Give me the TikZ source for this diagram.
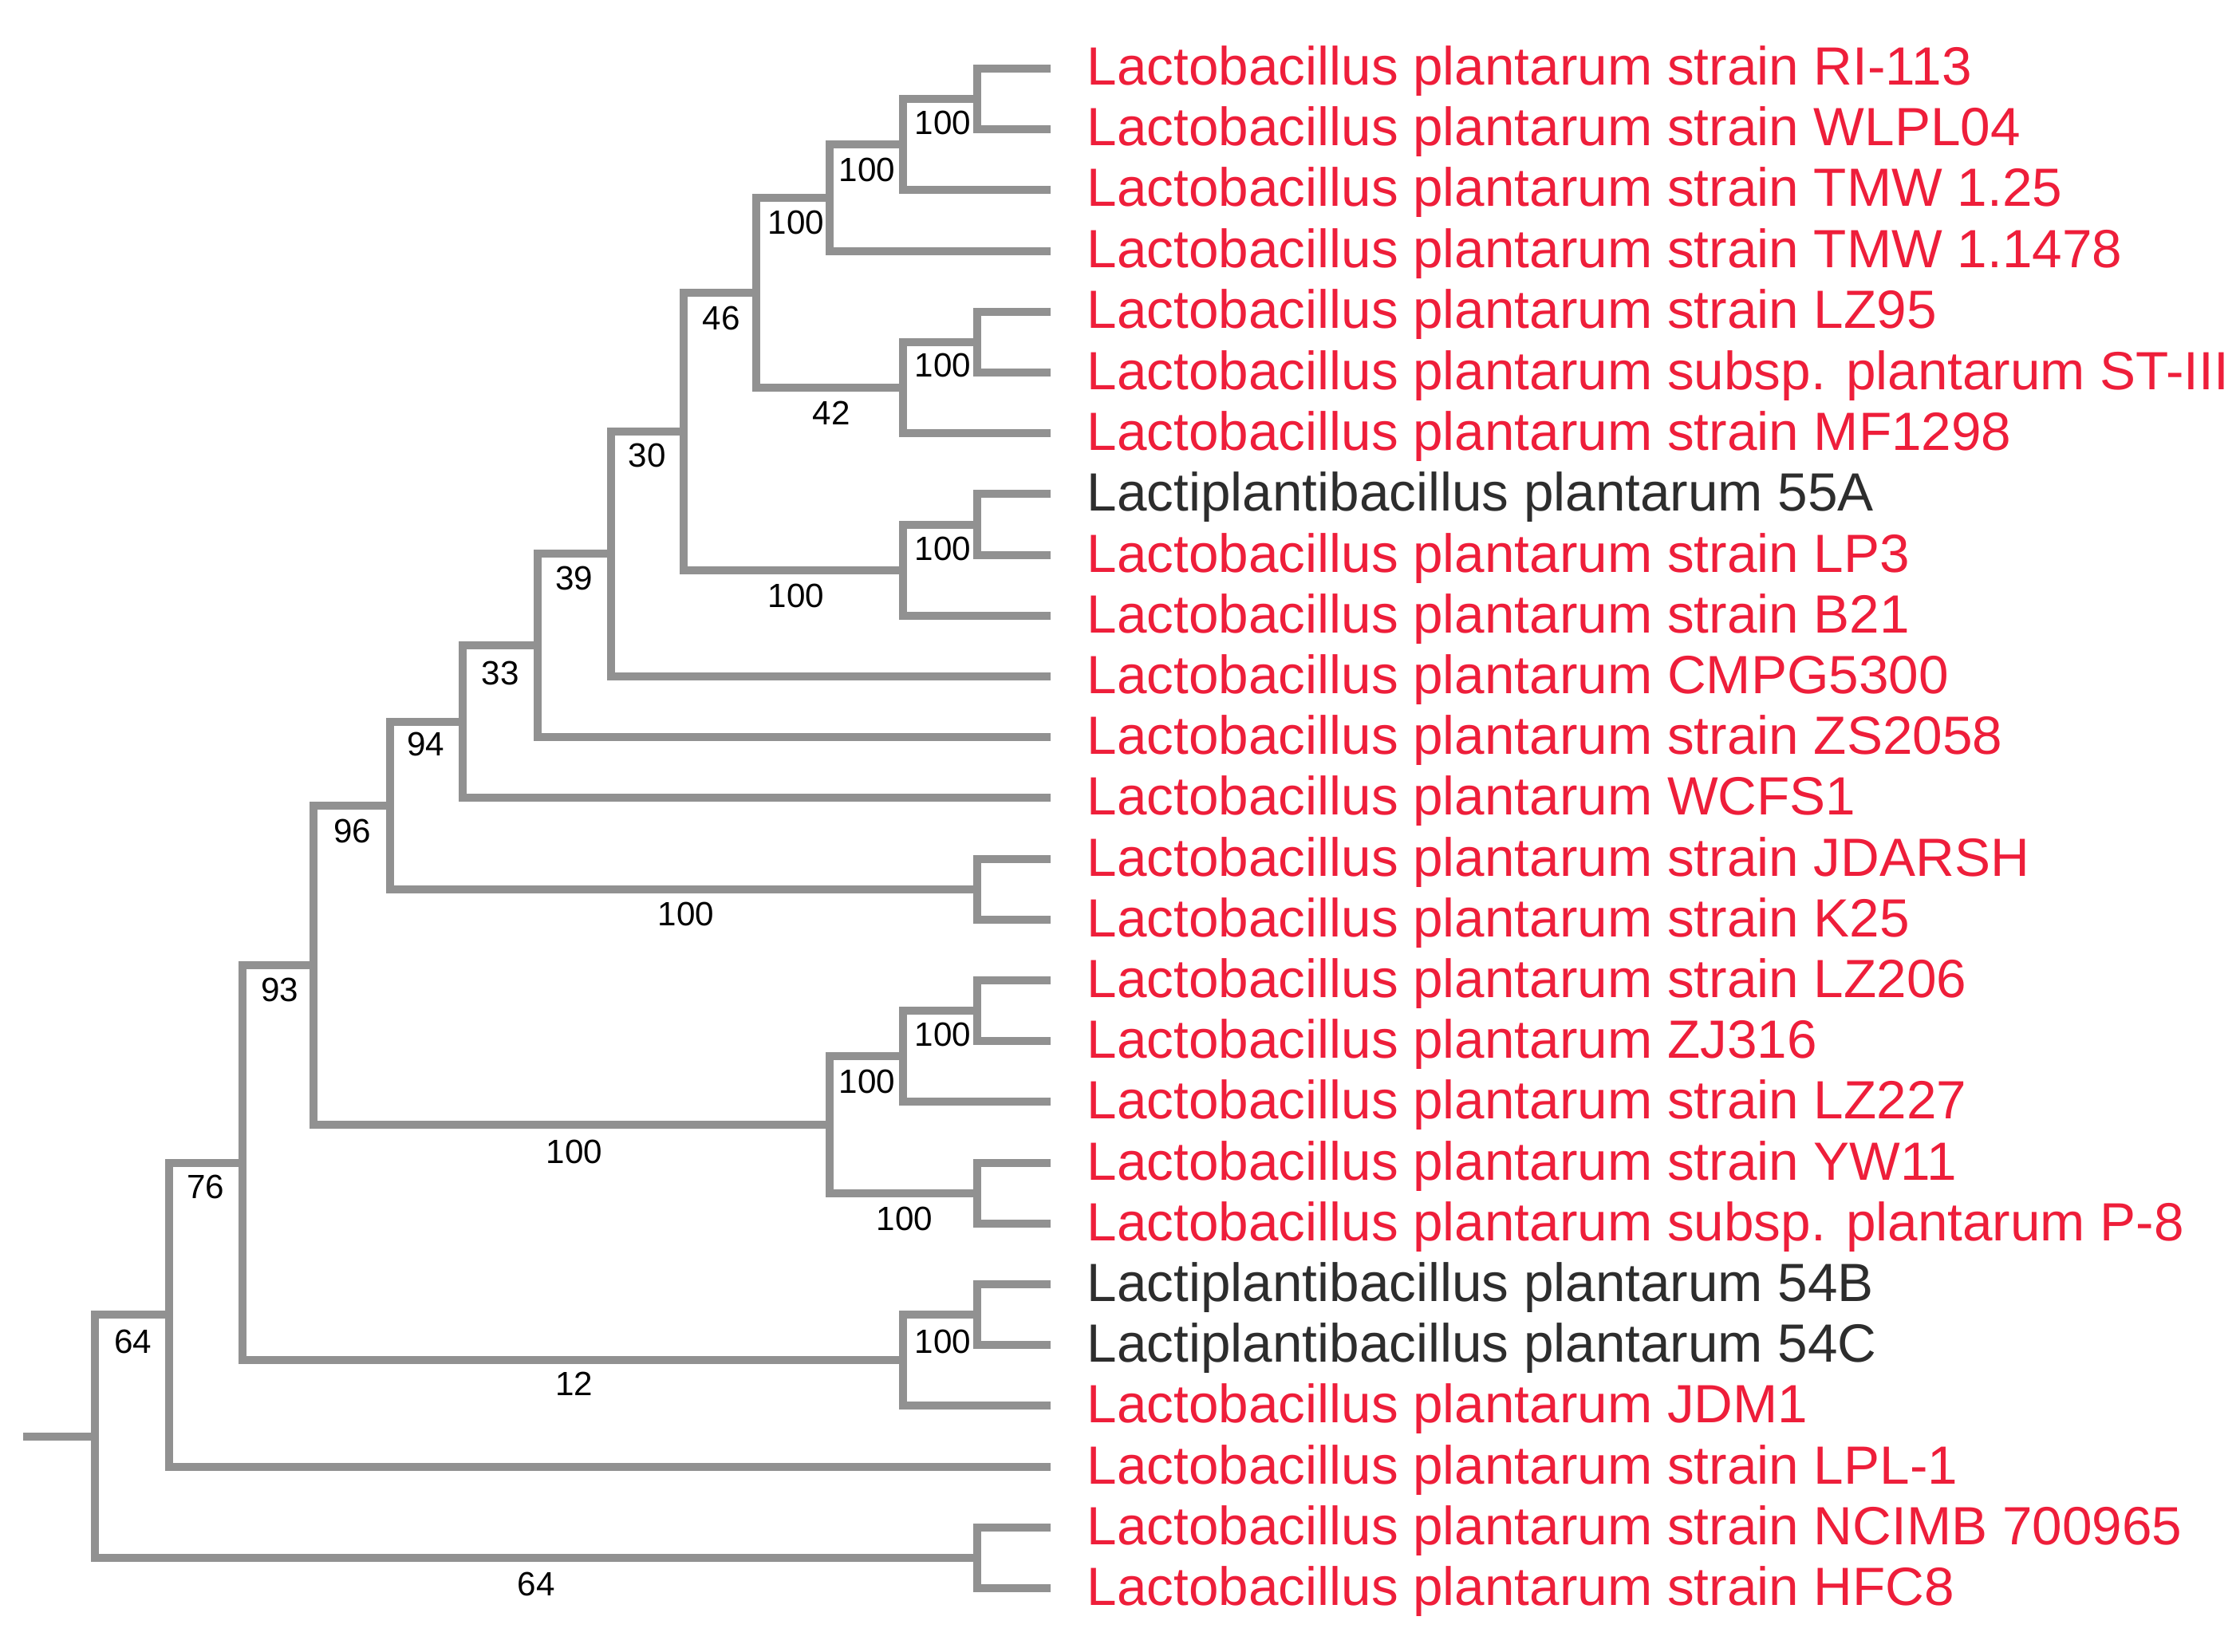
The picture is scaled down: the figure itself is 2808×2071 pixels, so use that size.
\documentclass[tikz,border=0pt]{standalone}
\usepackage{fontspec}
\setmainfont{Liberation Sans}
\definecolor{treegrey}{RGB}{145,145,145}
\definecolor{strainred}{RGB}{238,30,58}
\definecolor{ownblack}{RGB}{45,45,45}
\tikzset{
  branch/.style={draw=treegrey, line width=0.95mm},
  taxon/.style={anchor=base west, inner sep=0pt, font=\fontsize{19.2}{23}\selectfont, text=strainred},
  owntaxon/.style={taxon, text=ownblack},
  boot/.style={inner sep=0pt, font=\fontsize{12}{14}\selectfont},
}
\begin{document}
\begin{tikzpicture}[x=0.1mm,y=-0.1mm]
\useasboundingbox (0,0) rectangle (2808,2071);
% leaf tips
\coordinate (ri113) at (1317,86);   \coordinate (wlpl04) at (1317,162);
\coordinate (tmw125) at (1317,238); \coordinate (tmw1478) at (1317,315);
\coordinate (lz95) at (1317,391);   \coordinate (st3) at (1317,467);
\coordinate (mf1298) at (1317,543); \coordinate (a55) at (1317,619);
\coordinate (lp3) at (1317,696);    \coordinate (b21) at (1317,772);
\coordinate (cmpg) at (1317,848);   \coordinate (zs2058) at (1317,924);
\coordinate (wcfs1) at (1317,1000); \coordinate (jdarsh) at (1317,1077);
\coordinate (k25) at (1317,1153);   \coordinate (lz206) at (1317,1229);
\coordinate (zj316) at (1317,1305); \coordinate (lz227) at (1317,1381);
\coordinate (yw11) at (1317,1458);  \coordinate (p8) at (1317,1534);
\coordinate (b54) at (1317,1610);   \coordinate (c54) at (1317,1686);
\coordinate (jdm1) at (1317,1762);  \coordinate (lpl1) at (1317,1839);
\coordinate (ncimb) at (1317,1915); \coordinate (hfc8) at (1317,1991);
% inner nodes
\coordinate (n1) at (1225,124);  \coordinate (n2) at (1132,181);
\coordinate (n3) at (1040,248);  \coordinate (n4) at (1225,429);
\coordinate (n5) at (1132,486);  \coordinate (n6) at (948,367);
\coordinate (n7) at (1225,658);  \coordinate (n8) at (1132,715);
\coordinate (n9) at (857,541);   \coordinate (n10) at (766,694);
\coordinate (n11) at (674,809);  \coordinate (n12) at (580,905);
\coordinate (n13) at (1225,1115); \coordinate (n14) at (489,1010);
\coordinate (n15) at (1225,1267); \coordinate (n16) at (1132,1324);
\coordinate (n17) at (1225,1496); \coordinate (n18) at (1040,1410);
\coordinate (n19) at (393,1210); \coordinate (n20) at (1225,1648);
\coordinate (n21) at (1132,1705); \coordinate (n22) at (304,1458);
\coordinate (n23) at (212,1648); \coordinate (n24) at (1225,1953);
\coordinate (n25) at (119,1801); \coordinate (root) at (29,1801);
% branches
\draw[branch] (ri113) -| (n1) |- (wlpl04);
\draw[branch] (n1) -| (n2) |- (tmw125);
\draw[branch] (n2) -| (n3) |- (tmw1478);
\draw[branch] (lz95) -| (n4) |- (st3);
\draw[branch] (n4) -| (n5) |- (mf1298);
\draw[branch] (n3) -| (n6) |- (n5);
\draw[branch] (a55) -| (n7) |- (lp3);
\draw[branch] (n7) -| (n8) |- (b21);
\draw[branch] (n6) -| (n9) |- (n8);
\draw[branch] (n9) -| (n10) |- (cmpg);
\draw[branch] (n10) -| (n11) |- (zs2058);
\draw[branch] (n11) -| (n12) |- (wcfs1);
\draw[branch] (jdarsh) -| (n13) |- (k25);
\draw[branch] (n12) -| (n14) |- (n13);
\draw[branch] (lz206) -| (n15) |- (zj316);
\draw[branch] (n15) -| (n16) |- (lz227);
\draw[branch] (yw11) -| (n17) |- (p8);
\draw[branch] (n16) -| (n18) |- (n17);
\draw[branch] (n14) -| (n19) |- (n18);
\draw[branch] (b54) -| (n20) |- (c54);
\draw[branch] (n20) -| (n21) |- (jdm1);
\draw[branch] (n19) -| (n22) |- (n21);
\draw[branch] (n22) -| (n23) |- (lpl1);
\draw[branch] (ncimb) -| (n24) |- (hfc8);
\draw[branch] (n23) -| (n25) |- (n24);
\draw[branch] (root) -- (n25);
% bootstrap values
\node[boot] (bs1) at (1182,154) {100};
\node[boot] (bs2) at (1087,213) {100};
\node[boot] (bs3) at (998,279) {100};
\node[boot] (bs4) at (904,399) {46};
\node[boot] (bs5) at (1182,458) {100};
\node[boot] (bs6) at (1042,518) {42};
\node[boot] (bs7) at (811,571) {30};
\node[boot] (bs8) at (1182,688) {100};
\node[boot] (bs9) at (998,747) {100};
\node[boot] (bs10) at (720,725) {39};
\node[boot] (bs11) at (627,844) {33};
\node[boot] (bs12) at (534,933) {94};
\node[boot] (bs13) at (442,1042) {96};
\node[boot] (bs14) at (860,1146) {100};
\node[boot] (bs15) at (351,1241) {93};
\node[boot] (bs16) at (1182,1297) {100};
\node[boot] (bs17) at (1087,1356) {100};
\node[boot] (bs18) at (720,1444) {100};
\node[boot] (bs19) at (1134,1528) {100};
\node[boot] (bs20) at (258,1488) {76};
\node[boot] (bs21) at (1182,1682) {100};
\node[boot] (bs22) at (720,1735) {12};
\node[boot] (bs23) at (167,1682) {64};
\node[boot] (bs24) at (672,1986) {64};
% strain names
\node[taxon] (l-ri113) at (1362,107) {Lactobacillus plantarum strain RI-113};
\node[taxon] (l-wlpl04) at (1362,183) {Lactobacillus plantarum strain WLPL04};
\node[taxon] (l-tmw125) at (1362,259) {Lactobacillus plantarum strain TMW 1.25};
\node[taxon] (l-tmw1478) at (1362,336) {Lactobacillus plantarum strain TMW 1.1478};
\node[taxon] (l-lz95) at (1362,412) {Lactobacillus plantarum strain LZ95};
\node[taxon] (l-st3) at (1362,488) {Lactobacillus plantarum subsp. plantarum ST-III};
\node[taxon] (l-mf1298) at (1362,564) {Lactobacillus plantarum strain MF1298};
\node[owntaxon] (l-a55) at (1362,640) {Lactiplantibacillus plantarum 55A};
\node[taxon] (l-lp3) at (1362,717) {Lactobacillus plantarum strain LP3};
\node[taxon] (l-b21) at (1362,793) {Lactobacillus plantarum strain B21};
\node[taxon] (l-cmpg) at (1362,869) {Lactobacillus plantarum CMPG5300};
\node[taxon] (l-zs2058) at (1362,945) {Lactobacillus plantarum strain ZS2058};
\node[taxon] (l-wcfs1) at (1362,1021) {Lactobacillus plantarum WCFS1};
\node[taxon] (l-jdarsh) at (1362,1098) {Lactobacillus plantarum strain JDARSH};
\node[taxon] (l-k25) at (1362,1174) {Lactobacillus plantarum strain K25};
\node[taxon] (l-lz206) at (1362,1250) {Lactobacillus plantarum strain LZ206};
\node[taxon] (l-zj316) at (1362,1326) {Lactobacillus plantarum ZJ316};
\node[taxon] (l-lz227) at (1362,1402) {Lactobacillus plantarum strain LZ227};
\node[taxon] (l-yw11) at (1362,1479) {Lactobacillus plantarum strain YW11};
\node[taxon] (l-p8) at (1362,1555) {Lactobacillus plantarum subsp. plantarum P-8};
\node[owntaxon] (l-b54) at (1362,1631) {Lactiplantibacillus plantarum 54B};
\node[owntaxon] (l-c54) at (1362,1707) {Lactiplantibacillus plantarum 54C};
\node[taxon] (l-jdm1) at (1362,1783) {Lactobacillus plantarum JDM1};
\node[taxon] (l-lpl1) at (1362,1860) {Lactobacillus plantarum strain LPL-1};
\node[taxon] (l-ncimb) at (1362,1936) {Lactobacillus plantarum strain NCIMB 700965};
\node[taxon] (l-hfc8) at (1362,2012) {Lactobacillus plantarum strain HFC8};
\end{tikzpicture}
\end{document}
